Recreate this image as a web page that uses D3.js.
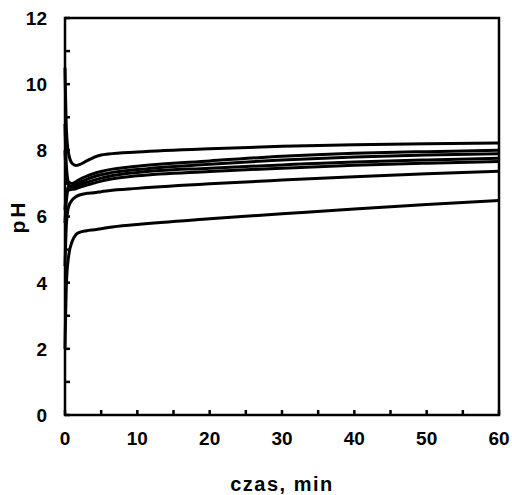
<!DOCTYPE html>
<html>
<head>
<meta charset="utf-8">
<script src="https://cdn.jsdelivr.net/npm/d3@7"></script>
<style>
  body { margin: 0; background: #fff; }
  svg text { font-family: "Liberation Sans", Arial, sans-serif; font-weight: bold; fill: #000; }
</style>
</head>
<body>
<div id="chart"></div>
<script>
// time points (min)
var times = [0, 0.2, 0.5, 1, 1.5, 2, 3, 4, 5, 6, 10, 20, 30, 40, 50, 60];

// pH curves
var curveTop = [10.5, 8.6, 7.9, 7.6, 7.54, 7.57, 7.68, 7.79, 7.86, 7.89, 7.95, 8.05, 8.12, 8.17, 8.2, 8.22];
var curveB1  = [8.8, 7.5, 7.05, 7.0, 7.05, 7.12, 7.22, 7.3, 7.36, 7.41, 7.52, 7.68, 7.82, 7.91, 7.96, 8.0];
var curveB2  = [8.0, 7.2, 6.95, 6.93, 6.97, 7.03, 7.12, 7.2, 7.26, 7.31, 7.42, 7.58, 7.71, 7.8, 7.86, 7.9];
var curveB3  = [6.2, 6.7, 6.9, 6.88, 6.9, 6.95, 7.03, 7.1, 7.16, 7.21, 7.33, 7.46, 7.56, 7.65, 7.71, 7.76];
var curveB4  = [5.8, 6.5, 6.8, 6.82, 6.84, 6.88, 6.95, 7.01, 7.07, 7.12, 7.23, 7.36, 7.46, 7.55, 7.61, 7.66];
var curveLow2 = [4.5, 5.8, 6.3, 6.5, 6.6, 6.65, 6.7, 6.72, 6.75, 6.78, 6.85, 6.99, 7.1, 7.2, 7.29, 7.37];
var curveLow  = [2.0, 4.0, 4.8, 5.25, 5.45, 5.52, 5.57, 5.6, 5.63, 5.67, 5.76, 5.93, 6.08, 6.23, 6.36, 6.48];

var allCurves = [curveTop, curveB1, curveB2, curveB3, curveB4, curveLow2, curveLow];

var xTicks = [0, 10, 20, 30, 40, 50, 60];
var xMinor = [5, 15, 25, 35, 45, 55];
var yTicks = [0, 2, 4, 6, 8, 10, 12];
var yMinor = [1, 3, 5, 7, 9, 11];

var W = 512, H = 495;
var margin = {top: 18, right: 13, bottom: 80, left: 65};
var width = W - margin.left - margin.right,
    height = H - margin.top - margin.bottom;

var svg = d3.select("#chart").append("svg")
    .attr("width", W)
    .attr("height", H);

var g = svg.append("g")
    .attr("transform", "translate(" + margin.left + "," + margin.top + ")");

var x = d3.scaleLinear().domain([0, 60]).range([0, width]);
var y = d3.scaleLinear().domain([0, 12]).range([height, 0]);

// curves
var line = d3.line()
    .x(function(d, i) { return x(times[i]); })
    .y(function(d) { return y(d); })
    .curve(d3.curveMonotoneX);

g.selectAll("path.curve")
    .data(allCurves)
  .enter().append("path")
    .attr("class", "curve")
    .attr("fill", "none")
    .attr("stroke", "#000")
    .attr("stroke-width", 3)
    .attr("stroke-linejoin", "round")
    .attr("d", line);

// ticks pointing inward
g.selectAll("line.yt")
    .data(yTicks.concat(yMinor))
  .enter().append("line")
    .attr("x1", 0).attr("x2", 5)
    .attr("y1", function(d) { return y(d); })
    .attr("y2", function(d) { return y(d); })
    .attr("stroke", "#000").attr("stroke-width", 2.5);

g.selectAll("line.xt")
    .data(xTicks.concat(xMinor))
  .enter().append("line")
    .attr("x1", function(d) { return x(d); })
    .attr("x2", function(d) { return x(d); })
    .attr("y1", height).attr("y2", height - 5)
    .attr("stroke", "#000").attr("stroke-width", 2.5);

// frame
g.append("rect")
    .attr("width", width).attr("height", height)
    .attr("fill", "none")
    .attr("stroke", "#000")
    .attr("stroke-width", 2.5);

// tick labels
g.selectAll("text.yl")
    .data(yTicks)
  .enter().append("text")
    .attr("x", -18)
    .attr("y", function(d) { return y(d); })
    .attr("dy", "0.36em")
    .attr("text-anchor", "end")
    .style("font-size", "19px")
    .text(function(d) { return d; });

g.selectAll("text.xl")
    .data(xTicks)
  .enter().append("text")
    .attr("x", function(d) { return x(d); })
    .attr("y", height + 30)
    .attr("text-anchor", "middle")
    .style("font-size", "19px")
    .text(function(d) { return d; });

// axis titles
svg.append("text")
    .attr("x", margin.left + width / 2)
    .attr("y", 491)
    .attr("text-anchor", "middle")
    .style("font-size", "20px")
    .style("letter-spacing", "1.5px")
    .text("czas, min");

svg.append("text")
    .attr("transform", "translate(25," + (margin.top + height / 2) + ") rotate(-90)")
    .attr("text-anchor", "middle")
    .style("font-size", "21px")
    .style("letter-spacing", "3px")
    .text("pH");
</script>
</body>
</html>
